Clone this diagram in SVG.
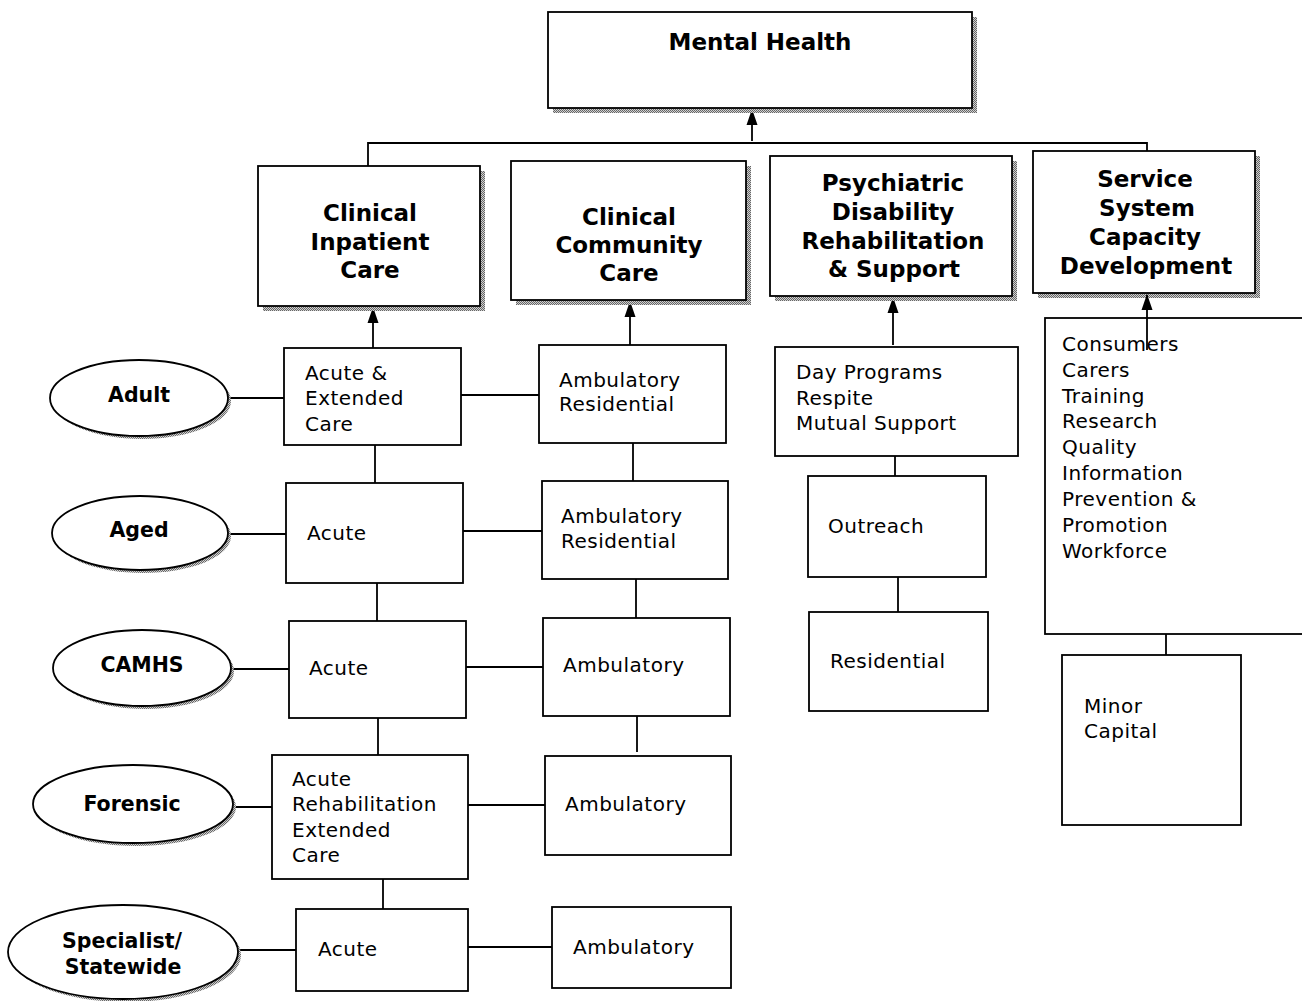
<svg xmlns="http://www.w3.org/2000/svg" width="1302" height="1001" viewBox="0 0 1302 1001">
  <style>
    .box { fill: #fff; stroke: #000; stroke-width: 1.8; }
    .shadow { fill: url(#dots); stroke: none; }
    .line { fill: none; stroke: #000; stroke-width: 1.8; }
    .arrow { fill: none; stroke: #000; stroke-width: 1.8; marker-end: url(#head); }
    .title { font-family: "DejaVu Sans", Verdana, sans-serif; font-weight: bold; font-size: 23px; text-anchor: middle; fill: #000; }
    .oval { font-family: "DejaVu Sans", Verdana, sans-serif; font-weight: bold; font-size: 20.5px; text-anchor: middle; fill: #000; }
    .item { font-family: "DejaVu Sans", Verdana, sans-serif; font-size: 20px; letter-spacing: 0.5px; fill: #000; }
  </style>
  <defs>
    <pattern id="dots" width="2" height="2" patternUnits="userSpaceOnUse">
      <rect width="2" height="2" fill="#d0d0d0"/>
      <rect width="1" height="1" fill="#666"/>
      <rect x="1" y="1" width="1" height="1" fill="#666"/>
    </pattern>
    <marker id="head" viewBox="0 0 16 12" refX="15" refY="6" markerWidth="16" markerHeight="12" markerUnits="userSpaceOnUse" orient="auto">
      <path d="M0,0.5 L16,6 L0,11.5 Z" fill="#000"/>
    </marker>
  </defs>
  <rect width="1302" height="1001" fill="#fff"/>

  <!-- connectors -->
  <g id="connectors">
    <!-- program areas up to the top box -->
    <path class="arrow" d="M752,141 L752,110"/>
    <path class="line" d="M368,167 L368,143 L1147,143 L1147,152"/>
    <!-- service groups up to their program areas -->
    <path class="arrow" d="M373,348 L373,308"/>
    <path class="arrow" d="M630,345 L630,302"/>
    <path class="arrow" d="M893,345 L893,298"/>
    <!-- inpatient column -->
    <path class="line" d="M375,445 L375,483"/>
    <path class="line" d="M377,583 L377,621"/>
    <path class="line" d="M378,718 L378,755"/>
    <path class="line" d="M383,879 L383,909"/>
    <!-- community column -->
    <path class="line" d="M633,443 L633,481"/>
    <path class="line" d="M636,579 L636,618"/>
    <path class="line" d="M637,716 L637,752"/>
    <!-- rows -->
    <path class="line" d="M461,395 L539,395"/>
    <path class="line" d="M463,531 L542,531"/>
    <path class="line" d="M466,667 L543,667"/>
    <path class="line" d="M468,805 L545,805"/>
    <path class="line" d="M468,947 L552,947"/>
    <!-- ovals to inpatient boxes -->
    <path class="line" d="M229,398 L284,398"/>
    <path class="line" d="M229,534 L286,534"/>
    <path class="line" d="M232,669 L289,669"/>
    <path class="line" d="M233,807 L272,807"/>
    <path class="line" d="M238,950 L296,950"/>
    <!-- rehabilitation column -->
    <path class="line" d="M895,456 L895,476"/>
    <path class="line" d="M898,577 L898,612"/>
    <!-- capacity column -->
    <path class="line" d="M1166,634 L1166,655"/>
  </g>

  <!-- top -->
  <g id="mental-health">
    <rect class="shadow" x="553" y="17" width="424" height="96"/>
    <rect class="box" x="548" y="12" width="424" height="96"/>
    <text class="title" x="760" y="50">Mental Health</text>
  </g>

  <!-- program areas -->
  <g id="clinical-inpatient">
    <rect class="shadow" x="263" y="171" width="222" height="140"/>
    <rect class="box" x="258" y="166" width="222" height="140"/>
    <text class="title" x="370" y="221">Clinical</text>
    <text class="title" x="370" y="250">Inpatient</text>
    <text class="title" x="370" y="278">Care</text>
  </g>
  <g id="clinical-community">
    <rect class="shadow" x="516" y="166" width="235" height="139"/>
    <rect class="box" x="511" y="161" width="235" height="139"/>
    <text class="title" x="629" y="225">Clinical</text>
    <text class="title" x="629" y="253">Community</text>
    <text class="title" x="629" y="281">Care</text>
  </g>
  <g id="psychiatric-disability">
    <rect class="shadow" x="775" y="161" width="242" height="140"/>
    <rect class="box" x="770" y="156" width="242" height="140"/>
    <text class="title" x="893" y="191">Psychiatric</text>
    <text class="title" x="893" y="220">Disability</text>
    <text class="title" x="893" y="249">Rehabilitation</text>
    <text class="title" x="894" y="277">&amp; Support</text>
  </g>
  <g id="service-capacity">
    <rect class="shadow" x="1038" y="156" width="222" height="142"/>
    <rect class="box" x="1033" y="151" width="222" height="142"/>
    <text class="title" x="1145" y="187">Service</text>
    <text class="title" x="1147" y="216">System</text>
    <text class="title" x="1145" y="245">Capacity</text>
    <text class="title" x="1146" y="274">Development</text>
  </g>

  <!-- population groups -->
  <g id="adult">
    <ellipse class="shadow" cx="142" cy="401" rx="89" ry="38"/>
    <ellipse class="box" cx="139" cy="398" rx="89" ry="38"/>
    <text class="oval" x="139" y="402">Adult</text>
  </g>
  <g id="aged">
    <ellipse class="shadow" cx="143" cy="536" rx="88" ry="37"/>
    <ellipse class="box" cx="140" cy="533" rx="88" ry="37"/>
    <text class="oval" x="139" y="537">Aged</text>
  </g>
  <g id="camhs">
    <ellipse class="shadow" cx="145" cy="671" rx="89" ry="38"/>
    <ellipse class="box" cx="142" cy="668" rx="89" ry="38"/>
    <text class="oval" x="142" y="672">CAMHS</text>
  </g>
  <g id="forensic">
    <ellipse class="shadow" cx="136" cy="807" rx="100" ry="39"/>
    <ellipse class="box" cx="133" cy="804" rx="100" ry="39"/>
    <text class="oval" x="132" y="811">Forensic</text>
  </g>
  <g id="specialist">
    <ellipse class="shadow" cx="126" cy="955" rx="115" ry="47"/>
    <ellipse class="box" cx="123" cy="952" rx="115" ry="47"/>
    <text class="oval" x="122" y="948">Specialist/</text>
    <text class="oval" x="123" y="974">Statewide</text>
  </g>

  <!-- inpatient services -->
  <g id="adult-inpatient">
    <rect class="box" x="284" y="348" width="177" height="97"/>
    <text class="item" x="305" y="380">Acute &amp;</text>
    <text class="item" x="305" y="405">Extended</text>
    <text class="item" x="305" y="431">Care</text>
  </g>
  <g id="aged-inpatient">
    <rect class="box" x="286" y="483" width="177" height="100"/>
    <text class="item" x="307" y="540">Acute</text>
  </g>
  <g id="camhs-inpatient">
    <rect class="box" x="289" y="621" width="177" height="97"/>
    <text class="item" x="309" y="675">Acute</text>
  </g>
  <g id="forensic-inpatient">
    <rect class="box" x="272" y="755" width="196" height="124"/>
    <text class="item" x="292" y="786">Acute</text>
    <text class="item" x="292" y="811">Rehabilitation</text>
    <text class="item" x="292" y="837">Extended</text>
    <text class="item" x="292" y="862">Care</text>
  </g>
  <g id="specialist-inpatient">
    <rect class="box" x="296" y="909" width="172" height="82"/>
    <text class="item" x="318" y="956">Acute</text>
  </g>

  <!-- community services -->
  <g id="adult-community">
    <rect class="box" x="539" y="345" width="187" height="98"/>
    <text class="item" x="559" y="387">Ambulatory</text>
    <text class="item" x="559" y="411">Residential</text>
  </g>
  <g id="aged-community">
    <rect class="box" x="542" y="481" width="186" height="98"/>
    <text class="item" x="561" y="523">Ambulatory</text>
    <text class="item" x="561" y="548">Residential</text>
  </g>
  <g id="camhs-community">
    <rect class="box" x="543" y="618" width="187" height="98"/>
    <text class="item" x="563" y="672">Ambulatory</text>
  </g>
  <g id="forensic-community">
    <rect class="box" x="545" y="756" width="186" height="99"/>
    <text class="item" x="565" y="811">Ambulatory</text>
  </g>
  <g id="specialist-community">
    <rect class="box" x="552" y="907" width="179" height="81"/>
    <text class="item" x="573" y="954">Ambulatory</text>
  </g>

  <!-- rehabilitation and support services -->
  <g id="day-programs">
    <rect class="box" x="775" y="347" width="243" height="109"/>
    <text class="item" x="796" y="379">Day Programs</text>
    <text class="item" x="796" y="405">Respite</text>
    <text class="item" x="796" y="430">Mutual Support</text>
  </g>
  <g id="outreach">
    <rect class="box" x="808" y="476" width="178" height="101"/>
    <text class="item" x="828" y="533">Outreach</text>
  </g>
  <g id="residential">
    <rect class="box" x="809" y="612" width="179" height="99"/>
    <text class="item" x="830" y="668">Residential</text>
  </g>

  <!-- capacity development -->
  <g id="capacity-items">
    <rect class="box" x="1045" y="318" width="262" height="316"/>
    <text class="item" x="1062" y="351">Consumers</text>
    <text class="item" x="1062" y="377">Carers</text>
    <text class="item" x="1062" y="403">Training</text>
    <text class="item" x="1062" y="428">Research</text>
    <text class="item" x="1062" y="454">Quality</text>
    <text class="item" x="1062" y="480">Information</text>
    <text class="item" x="1062" y="506">Prevention &amp;</text>
    <text class="item" x="1062" y="532">Promotion</text>
    <text class="item" x="1062" y="558">Workforce</text>
  </g>
  <!-- this arrow starts inside the capacity box, so it is drawn over it -->
  <path class="arrow" d="M1147,350 L1147,295"/>
  <g id="minor-capital">
    <rect class="box" x="1062" y="655" width="179" height="170"/>
    <text class="item" x="1084" y="713">Minor</text>
    <text class="item" x="1084" y="738">Capital</text>
  </g>
</svg>
